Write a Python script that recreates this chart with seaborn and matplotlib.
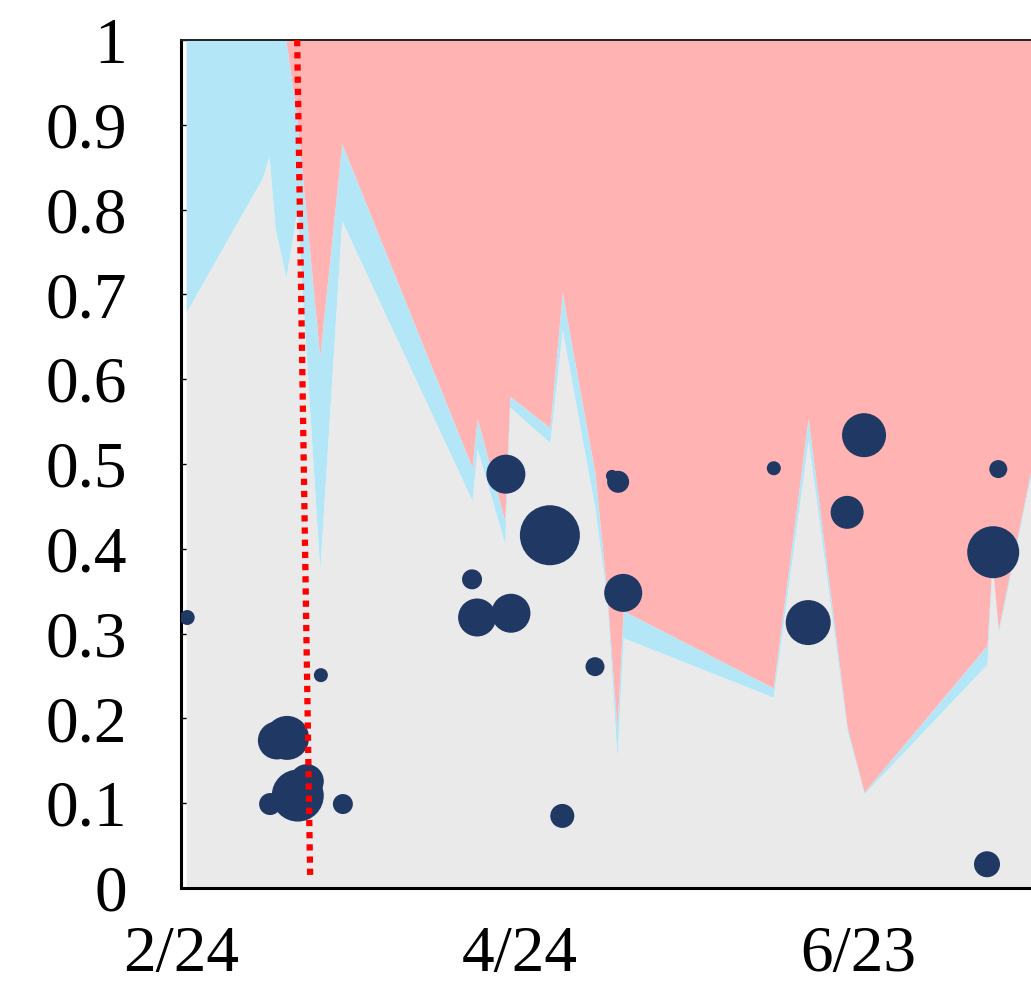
import numpy as np
import matplotlib
matplotlib.use('Agg')
import matplotlib.pyplot as plt
import seaborn as sns
import pandas as pd

# Area boundaries: days since 2/24, gray share, gray+blue share (pink fills the rest)
area_days = [0.9, 14.5, 15.6, 16.7, 18.6, 20.6, 24.6, 28.5, 51.6, 52.5, 57.4, 58.3,
             65.4, 67.6, 73.4, 75.5, 77.3, 78.4, 105.0, 111.2, 118.1, 121.1,
             142.9, 143.8, 144.9, 152.3]
gray_share = [0.679, 0.838, 0.863, 0.777, 0.720, 0.800, 0.374, 0.787, 0.457, 0.518,
              0.406, 0.567, 0.525, 0.658, 0.447, 0.340, 0.153, 0.295, 0.225, 0.528,
              0.185, 0.111, 0.264, 0.380, 0.300, 0.540]
gray_blue_share = [1.0, 1.0, 1.0, 1.0, 1.0, 0.905, 0.626, 0.878, 0.496, 0.554,
                   0.433, 0.580, 0.543, 0.702, 0.489, 0.348, 0.189, 0.327, 0.236, 0.554,
                   0.190, 0.113, 0.286, 0.385, 0.305, 0.545]

# Bubbles: day, value, weight
bubble_days = [1.1, 24.8, 17.0, 18.8, 15.8, 20.7, 22.3, 28.7, 51.6, 52.5, 58.5, 57.6,
               65.4, 67.6, 73.4, 77.5, 76.4, 78.4, 105.1, 111.2, 118.1, 121.1,
               144.0, 144.9, 142.9]
bubble_vals = [0.319, 0.251, 0.174, 0.177, 0.099, 0.109, 0.126, 0.099, 0.364, 0.319,
               0.324, 0.488, 0.416, 0.085, 0.261, 0.479, 0.486, 0.348, 0.495, 0.313,
               0.443, 0.534, 0.396, 0.494, 0.028]
bubble_weight = [56, 49, 361, 484, 121, 676, 289, 100, 100, 361,
                 380, 380, 900, 144, 90, 121, 36, 361, 49, 506,
                 272, 484, 676, 81, 169]

# Red dotted marker line
marker_days = [20.6, 22.9]
marker_vals = [1.0, 0.012]

x_ticks = [0, 30, 60, 90, 120, 150]
x_labels = ['2/24', '', '4/24', '', '6/23', '']
y_ticks = [0, 0.1, 0.2, 0.3, 0.4, 0.5, 0.6, 0.7, 0.8, 0.9, 1.0]
y_labels = ['0', '0.1', '0.2', '0.3', '0.4', '0.5', '0.6', '0.7', '0.8', '0.9', '1']

sns.set_style('ticks')
plt.rcParams['font.family'] = ['Liberation Serif', 'DejaVu Serif']

fig = plt.figure(figsize=(10.31, 9.91), dpi=100)
ax = fig.add_axes([181 / 1031, 1 - 888 / 991, 1 - 181 / 1031, 848 / 991])

gray = np.array(gray_share)
blue = np.array(gray_blue_share) - gray
pink = 1 - np.array(gray_blue_share)
ax.stackplot(area_days, gray, blue, pink,
             colors=['#EAEAEA', '#B3E7F8', '#FFB3B3'], linewidth=0)

bubbles = pd.DataFrame({'day': bubble_days, 'value': bubble_vals, 'weight': bubble_weight})
k = (2 * 0.72) ** 2
sns.scatterplot(data=bubbles, x='day', y='value', size='weight',
                sizes=(min(bubble_weight) * k, max(bubble_weight) * k),
                color='#203864', linewidth=0, alpha=1, legend=False, ax=ax, zorder=3)

ax.plot(marker_days, marker_vals, color='#FF0000', linewidth=4.5,
        linestyle=(0, (1, 0.95)), zorder=4)

ax.set_xlim(0, 150.7)
ax.set_ylim(0, 1)
ax.set_xticks(x_ticks)
ax.set_xticklabels(x_labels)
ax.set_yticks(y_ticks)
ax.set_yticklabels(y_labels)
ax.set_xlabel('')
ax.set_ylabel('')

ax.tick_params(axis='both', direction='in', length=4.5, width=1, labelsize=47,
               color='black', labelcolor='black')
ax.tick_params(axis='y', pad=39)
ax.tick_params(axis='x', pad=27)

for side in ['left', 'bottom']:
    ax.spines[side].set_linewidth(2.2)
    ax.spines[side].set_color('black')
ax.spines['top'].set_linewidth(1.4)
ax.spines['top'].set_color('#222222')
ax.spines['right'].set_visible(False)

fig.savefig('out.png', dpi=100)
